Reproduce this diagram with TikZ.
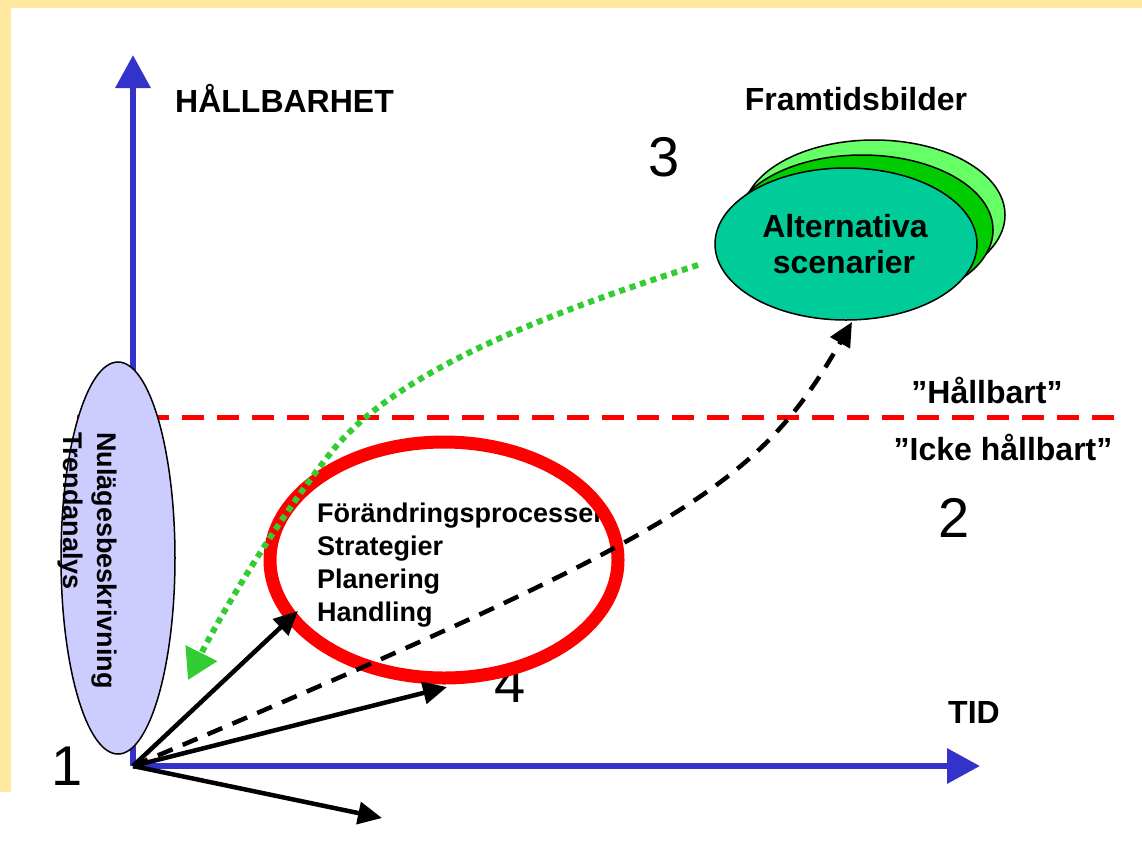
\documentclass[tikz,border=0pt]{standalone}
\usepackage{fontspec}
\setmainfont{Liberation Sans}
\usetikzlibrary{arrows.meta,shapes.geometric}
\definecolor{ybg}{HTML}{FFE8A0}
\definecolor{axblue}{HTML}{3333CC}
\definecolor{lavfill}{HTML}{CCCCFF}
\definecolor{scenteal}{HTML}{00CC99}
\definecolor{midgreen}{HTML}{00CC00}
\definecolor{lightgreen}{HTML}{66FF66}
\definecolor{dotgreen}{HTML}{33CC33}
\definecolor{redline}{HTML}{FF0000}
\newcommand\lblfont{\fontsize{32}{38}\selectfont\bfseries}
\newcommand\listfont{\fontsize{27}{33}\selectfont\bfseries}
\newcommand\digfont{\fontsize{56}{60}\selectfont}
\begin{document}
\begin{tikzpicture}[x=1pt,y=-1pt,
  lbl/.style={font=\lblfont, inner sep=0pt},
  listtxt/.style={font=\listfont, inner sep=0pt, anchor=base west},
  digit/.style={font=\digfont, inner sep=0pt, anchor=base},
  axis/.style={axblue, line width=6.5pt, -{Triangle[length=33pt,width=34pt]}},
  blk/.style={black, line width=4.5pt, -{Triangle[length=24pt,width=22pt]}},
  grn/.style={dotgreen, line width=6pt, dash pattern=on 6pt off 5pt, -{Triangle[length=30pt,width=34pt]}},
  oval/.style={ellipse, draw=black, line width=1.5pt, inner sep=0pt}]
\useasboundingbox (0,0) rectangle (1142,865);
\fill[white] (0,0) rectangle (1142,865);
\fill[ybg] (0,0) rectangle (1142,8);
\fill[ybg] (0,0) rectangle (11,792);

% coordinates
\coordinate (O) at (133,766);
\coordinate (ytip) at (133,55);
\coordinate (xtip) at (980,766);
\coordinate (rl) at (77,417);
\coordinate (rr) at (1115,417);
\coordinate (a1) at (298,611);
\coordinate (a2) at (447,687);
\coordinate (a3) at (382,818);
\coordinate (dt) at (852,322);
\coordinate (gs) at (698,265);
\coordinate (gm) at (333,450);
\coordinate (ge) at (188,680);

% axes
\draw[axis] (O) -- (ytip);
\draw[axis] (O) -- (xtip);

% sustainability threshold
\draw[redline, line width=5pt, dash pattern=on 22pt off 13pt] (rl) -- (rr);

% current state ellipse
\node[oval, fill=lavfill, minimum width=114pt, minimum height=392pt] (nul) at (118,558) {};
\node[font=\listfont, inner sep=0pt, rotate=-90, anchor=base west] (nultxt) at (97,432) {Nulägesbeskrivning};
\node[font=\listfont, inner sep=0pt, rotate=-90, anchor=base west] (trend) at (63,432) {Trendanalys};

% future images
\node[oval, fill=lightgreen, minimum width=262pt, minimum height=150pt] (alt3) at (874,215) {};
\node[oval, fill=midgreen, minimum width=262pt, minimum height=150pt] (alt2) at (862,230) {};
\node[oval, fill=scenteal, minimum width=262pt, minimum height=152pt] (alt) at (846,244) {};
\node[lbl, anchor=base] (altA) at (845,237) {Alternativa};
\node[lbl, anchor=base] (altB) at (844,273) {scenarier};

% labels
\node[lbl, anchor=base west] (hall) at (175,112) {HÅLLBARHET};
\node[lbl, anchor=base] (framt) at (856,110) {Framtidsbilder};
\node[lbl, anchor=base west] (tid) at (948,723) {TID};
\node[lbl, anchor=base] (hb) at (987,403) {”Hållbart”};
\node[lbl, anchor=base] (ihb) at (1003,460) {”Icke hållbart”};

% digits
\node[digit] (d1) at (67,785) {1};
\node[digit] (d2) at (954,537) {2};
\node[digit] (d3) at (664,176) {3};
\node[digit] (d4) at (510,702) {4};

% list
\node[listtxt] (l1) at (317,522) {Förändringsprocesser};
\node[listtxt] (l2) at (317,555) {Strategier};
\node[listtxt] (l3) at (317,588) {Planering};
\node[listtxt] (l4) at (317,621) {Handling};

% red focus ellipse
\node[ellipse, draw=redline, line width=13pt, inner sep=0pt, minimum width=348pt, minimum height=236pt] (focus) at (444,560) {};

% black arrows
\draw[blk] (O) -- (a1);
\draw[blk] (O) -- (a2);
\draw[blk] (O) -- (a3);
\draw[blk, dash pattern=on 16pt off 11pt] (O) .. controls (685,532) and (757,487) .. (dt);

% green backcasting arrow
\draw[grn] (gs) .. controls (536,317) and (396,373) .. (gm)
  .. controls (283,512) and (224,608) .. (ge);
\end{tikzpicture}
\end{document}
